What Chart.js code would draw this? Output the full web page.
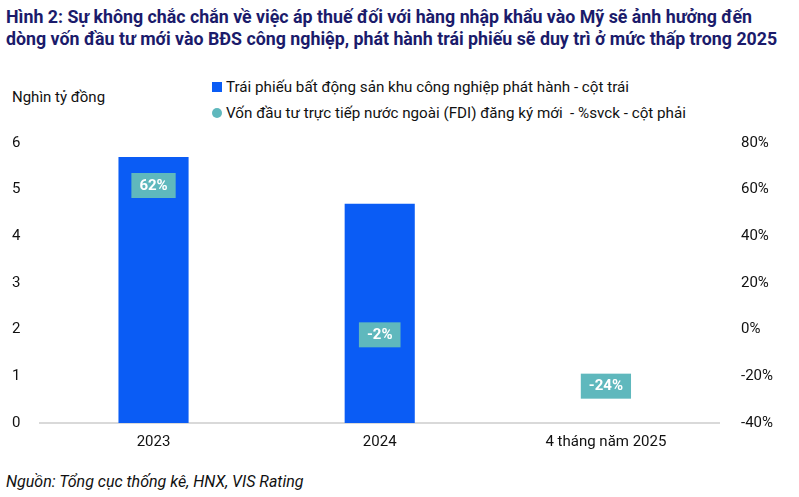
<!DOCTYPE html>
<html><head><meta charset="utf-8">
<script src="https://cdn.jsdelivr.net/npm/chart.js@4"></script>
<style>
body{margin:0;width:799px;height:497px;position:relative;font-family:Roboto,sans-serif;background:#fff;overflow:hidden}
.title{position:absolute;left:6px;top:6px;font-weight:bold;font-size:17.8px;line-height:22px;color:#1b1b6b;white-space:nowrap}
.unit{position:absolute;left:12px;top:88px;font-size:15px;color:#111}
.leg{position:absolute;left:212px;font-size:15.2px;color:#111;white-space:pre}
.leg span{display:inline-block;margin-right:4px}
.src{position:absolute;left:6px;top:472px;font-style:italic;font-size:16px;color:#111}
#wrap{position:absolute;left:0;top:120px;width:799px;height:333px}
</style></head><body>
<div class="title">Hình 2: Sự không chắc chắn về việc áp thuế đối với hàng nhập khẩu vào Mỹ sẽ ảnh hưởng đến<br>dòng vốn đầu tư mới vào BĐS công nghiệp, phát hành trái phiếu sẽ duy trì ở mức thấp trong 2025</div>
<div class="unit">Nghìn tỷ đồng</div>
<div class="leg" style="top:78px"><span style="width:10px;height:10px;background:#0a5cf5"></span>Trái phiếu bất động sản khu công nghiệp phát hành - cột trái</div>
<div class="leg" style="top:104px"><span style="width:10px;height:10px;border-radius:50%;background:#5fb8bd"></span>Vốn đầu tư trực tiếp nước ngoài (FDI) đăng ký mới  - %svck - cột phải</div>
<div id="wrap"><canvas id="c"></canvas></div>
<div class="src">Nguồn: Tổng cục thống kê, HNX, VIS Rating</div>
<script>
const categories = ['2023', '2024', '4 tháng năm 2025'];
const bondValues = [5.7, 4.7, 0];
const fdiGrowth = [62, -2, -24];

const labelBoxes = {
  id: 'labelBoxes',
  afterDatasetsDraw(chart) {
    const ctx = chart.ctx;
    const meta = chart.getDatasetMeta(1);
    ctx.save();
    ctx.font = 'bold 15px Roboto';
    ctx.textAlign = 'center';
    ctx.textBaseline = 'middle';
    meta.data.forEach((pt, i) => {
      const txt = fdiGrowth[i] + '%';
      const w = ctx.measureText(txt).width + 16;
      ctx.fillStyle = '#5fb8bd';
      ctx.fillRect(pt.x - w / 2, pt.y - 12, w, 25);
      ctx.fillStyle = '#fff';
      ctx.fillText(txt, pt.x, pt.y + 1);
    });
    ctx.restore();
  }
};

new Chart(document.getElementById('c'), {
  data: {
    labels: categories,
    datasets: [
      { type: 'bar', data: bondValues, backgroundColor: '#0a5cf5', yAxisID: 'y', barPercentage: 0.62, categoryPercentage: 0.5, order: 2 },
      { type: 'line', data: fdiGrowth, yAxisID: 'y1', showLine: false, pointRadius: 0, order: 1 }
    ]
  },
  options: {
    responsive: true, maintainAspectRatio: false, animation: false,
    layout: { padding: { top: 8, left: 0, right: 12 } },
    plugins: { legend: { display: false }, tooltip: { enabled: false } },
    scales: {
      x: { grid: { display: false }, border: { color: '#d9d9d9', width: 2 },
           ticks: { color: '#111', font: { family: 'Roboto', size: 15 }, padding: 2 } },
      y: { min: 0, max: 6, position: 'left', grid: { display: false }, border: { display: false },
           ticks: { stepSize: 1, color: '#111', font: { family: 'Roboto', size: 15 }, padding: 12 } },
      y1: { min: -40, max: 80, position: 'right', grid: { display: false }, border: { display: false },
            ticks: { stepSize: 20, color: '#111', font: { family: 'Roboto', size: 15 }, padding: 14, callback: v => v + '%' } }
    }
  },
  plugins: [labelBoxes]
});
</script>
</body></html>
